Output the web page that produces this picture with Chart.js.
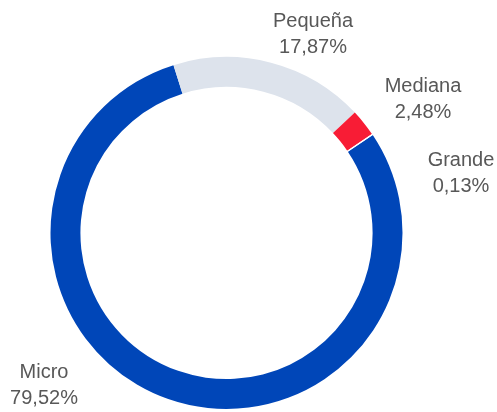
<!DOCTYPE html>
<html>
<head>
<meta charset="utf-8">
<script src="https://cdn.jsdelivr.net/npm/chart.js@4"></script>
<style>
html,body{margin:0;padding:0;background:#fff;}
#wrap{width:497px;height:412px;position:relative;}
</style>
</head>
<body>
<div id="wrap"><canvas id="c" width="497" height="412"></canvas></div>
<script>
const categories = ['Micro', 'Pequeña', 'Mediana', 'Grande'];
const shares = [79.52, 17.87, 2.48, 0.13];
const colors = ['#0046b8', '#dde3ec', '#f81c35', '#ffffff'];

// label anchor points (layout only): centre x, baseline of first line
const labelPos = [
  {x: 44, y: 378},
  {x: 313, y: 27},
  {x: 423, y: 92},
  {x: 461, y: 166}
];

const fmt = v => v.toFixed(2).replace('.', ',') + '%';

const labelPlugin = {
  id: 'labels',
  afterDraw(chart) {
    const ctx = chart.ctx;
    ctx.save();
    ctx.font = '20px "Liberation Sans", Arial, sans-serif';
    ctx.fillStyle = '#585858';
    ctx.textAlign = 'center';
    ctx.textBaseline = 'alphabetic';
    categories.forEach((c, i) => {
      const p = labelPos[i];
      ctx.fillText(c, p.x, p.y);
      ctx.fillText(fmt(shares[i]), p.x, p.y + 26);
    });
    ctx.restore();
  }
};

new Chart(document.getElementById('c'), {
  type: 'doughnut',
  data: {
    labels: categories,
    datasets: [{
      data: shares,
      backgroundColor: colors,
      borderWidth: 0
    }]
  },
  options: {
    responsive: false,
    animation: false,
    cutout: '83%',
    rotation: 56.2,
    layout: {padding: {left: 50, right: 94, top: 57, bottom: 3}},
    plugins: {legend: {display: false}, tooltip: {enabled: false}}
  },
  plugins: [labelPlugin]
});
</script>
</body>
</html>
